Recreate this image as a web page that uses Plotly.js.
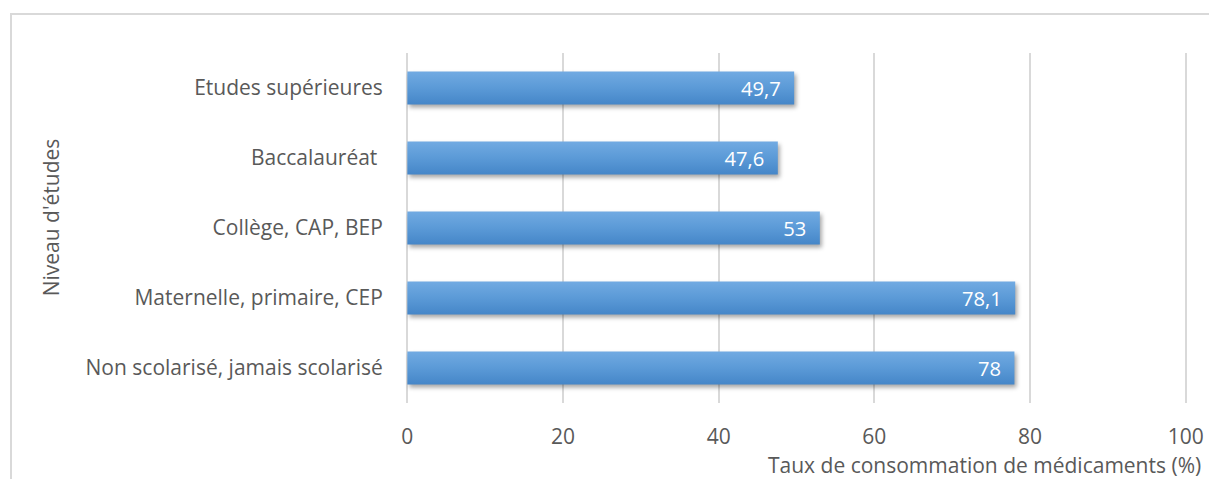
<!DOCTYPE html>
<html>
<head>
<meta charset="utf-8">
<script src="https://cdn.plot.ly/plotly-3.0.1.min.js"></script>
<style>
  html, body { margin: 0; padding: 0; background: #fff; }
  #frame { position: absolute; left: 10px; top: 13px; width: 1300px; height: 600px; border: 2px solid #d9d9d9; box-sizing: border-box; }
  #chart { position: absolute; left: 0; top: 0; width: 1209px; height: 479px; }
  #chart .trace.bars .point path { filter: drop-shadow(2px 3px 2px rgba(0,0,0,0.35)); }
</style>
</head>
<body>
<div id="frame"></div>
<div id="chart"></div>
<script>
const categories = ["Non scolarisé, jamais scolarisé", "Maternelle, primaire, CEP", "Collège, CAP, BEP", "Baccalauréat ", "Etudes supérieures"];
const values = [78, 78.1, 53, 47.6, 49.7];
const valueLabels = ["78", "78,1", "53", "47,6", "49,7"];
const xTicks = [0, 20, 40, 60, 80, 100];
const xTitle = "Taux de consommation de médicaments (%)";
const yTitle = "Niveau d'études";

const font = "Open Sans, Noto Sans, sans-serif";
const grey = "#595959";
const fs = 21;

Plotly.newPlot("chart", [{
  type: "bar",
  orientation: "h",
  y: categories,
  x: values,
  text: valueLabels,
  texttemplate: "%{text}\u00a0\u00a0",
  textposition: "inside",
  insidetextanchor: "end",
  textfont: { family: font, size: fs, color: "#ffffff" },
  marker: { color: "#5596d6", line: { width: 0 } },
  hoverinfo: "x+y",
  cliponaxis: false
}], {
  width: 1209, height: 479,
  margin: { l: 405, r: 21, t: 53, b: 76 },
  paper_bgcolor: "rgba(0,0,0,0)",
  plot_bgcolor: "rgba(0,0,0,0)",
  bargap: 0.53,
  showlegend: false,
  font: { family: font, color: grey, size: fs },
  xaxis: {
    range: [-0.3, 100.3],
    tickvals: xTicks,
    ticktext: xTicks.map(String),
    showgrid: true, gridcolor: "#d9d9d9", gridwidth: 2,
    zeroline: false, showline: false,
    ticks: "outside", ticklen: 15, tickcolor: "rgba(0,0,0,0)",
    tickfont: { family: font, size: fs, color: grey },
    automargin: false
  },
  yaxis: {
    type: "category",
    categoryorder: "array",
    categoryarray: categories,
    showgrid: false, zeroline: false, showline: false,
    ticks: "outside", ticklen: 17, tickcolor: "rgba(0,0,0,0)",
    tickfont: { family: font, size: fs, color: grey },
    automargin: false
  },
  annotations: [
    { text: xTitle, xref: "paper", yref: "paper", x: 1.0196, y: -0.178, xanchor: "right", yanchor: "middle", showarrow: false, font: { family: font, size: fs, color: grey } },
    { text: yTitle, xref: "paper", yref: "paper", x: -0.4523, y: 0.53, xanchor: "center", yanchor: "middle", textangle: -90, showarrow: false, font: { family: font, size: fs, color: grey } }
  ]
}, { displayModeBar: false, staticPlot: true }).then(gd => {
  const svg = gd.querySelector("svg.main-svg");
  const ns = "http://www.w3.org/2000/svg";
  let defs = svg.querySelector("defs");
  if (!defs) { defs = document.createElementNS(ns, "defs"); svg.insertBefore(defs, svg.firstChild); }
  const g = document.createElementNS(ns, "linearGradient");
  g.setAttribute("id", "barGrad");
  g.setAttribute("x1", "0"); g.setAttribute("y1", "0");
  g.setAttribute("x2", "0"); g.setAttribute("y2", "1");
  [["0", "#71aae2"], ["0.5", "#5b9ad7"], ["1", "#4586c8"]].forEach(([o, c]) => {
    const s = document.createElementNS(ns, "stop");
    s.setAttribute("offset", o); s.setAttribute("stop-color", c);
    g.appendChild(s);
  });
  defs.appendChild(g);
  gd.querySelectorAll(".trace.bars .point path").forEach(p => { p.style.fill = "url(#barGrad)"; });
});
</script>
</body>
</html>
